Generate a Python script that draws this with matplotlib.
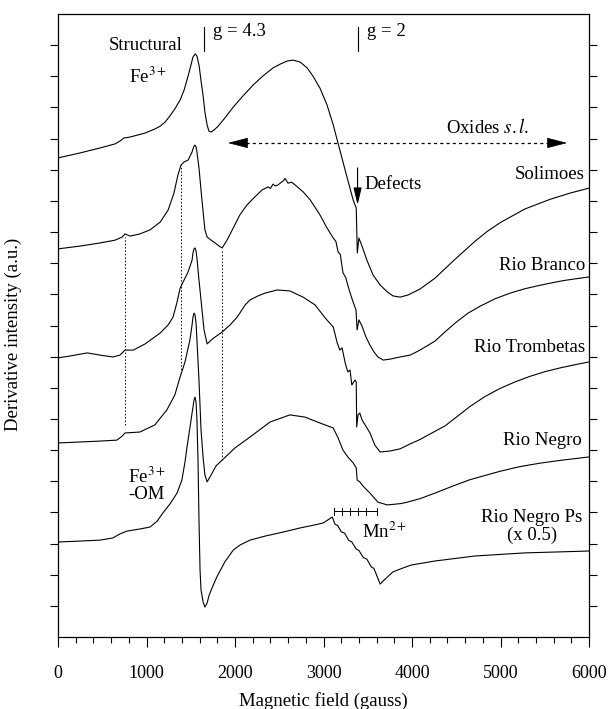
import matplotlib
matplotlib.use("Agg")
import matplotlib.pyplot as plt
import numpy as np

plt.rcParams['font.family'] = ['Liberation Serif', 'DejaVu Serif']
plt.rcParams['mathtext.fontset'] = 'stix'
plt.rcParams['font.size'] = 13.5

# magnetic field (gauss) and derivative intensity (a.u., offset stacked)
solimoes_x = [0, 250, 475, 645, 700, 745, 815, 985, 1095, 1155, 1210, 1265, 1320, 1380, 1425,
              1470, 1505, 1525, 1550, 1570, 1595, 1615, 1640, 1660, 1685, 1705, 1730, 1765,
              1810, 1885, 1980, 2090, 2205, 2315, 2430, 2510, 2590, 2655, 2735, 2815, 2880,
              2960, 3040, 3110, 3185, 3265, 3335, 3370, 3382, 3400, 3435, 3490, 3560, 3640,
              3720, 3785, 3865, 3955, 4090, 4260, 4465, 4710, 4850, 4995, 5275, 5560, 5785, 6000]
solimoes_y = [15.38, 15.54, 15.70, 15.83, 15.92, 16.02, 16.05, 16.18, 16.31, 16.40, 16.53,
              16.73, 16.95, 17.24, 17.56, 18.01, 18.39, 18.62, 18.72, 18.65, 18.33, 17.88,
              17.37, 16.85, 16.44, 16.24, 16.21, 16.28, 16.40, 16.66, 17.01, 17.37, 17.72,
              18.01, 18.27, 18.39, 18.49, 18.52, 18.46, 18.27, 18.01, 17.62, 17.08, 16.44,
              15.63, 14.77, 14.03, 13.77, 12.33, 12.81, 12.55, 12.10, 11.62, 11.30, 11.08,
              10.95, 10.91, 10.98, 11.17, 11.52, 12.07, 12.70, 13.02, 13.30, 13.74, 14.05,
              14.25, 14.41]

branco_x = [0, 250, 475, 645, 725, 757, 815, 925, 1040, 1155, 1245, 1310, 1355, 1390, 1425,
            1470, 1515, 1525, 1537, 1548, 1560, 1570, 1593, 1616, 1640, 1660, 1685, 1730, 1775,
            1820, 1855, 1910, 1980, 2055, 2135, 2225, 2305, 2375, 2400, 2430, 2455, 2485, 2515,
            2545, 2565, 2600, 2640, 2680, 2770, 2850, 2960, 3040, 3110, 3140, 3165, 3190, 3220,
            3250, 3290, 3335, 3367, 3380, 3400, 3435, 3480, 3525, 3570, 3615, 3675, 3750, 3865,
            3980, 4090, 4260, 4375, 4510, 4635, 4770, 4940, 5110, 5275, 5445, 5615, 5730, 6000]
branco_y = [12.46, 12.55, 12.65, 12.74, 12.84, 12.94, 12.87, 12.94, 13.07, 13.32, 13.71, 14.25,
            14.83, 15.15, 15.25, 15.31, 15.57, 15.67, 15.76, 15.79, 15.73, 15.57, 15.06, 14.35,
            13.64, 13.07, 12.84, 12.74, 12.65, 12.55, 12.49, 12.74, 13.13, 13.55, 13.87, 14.13,
            14.35, 14.45, 14.40, 14.54, 14.48, 14.51, 14.58, 14.64, 14.72, 14.57, 14.60, 14.51,
            14.29, 14.03, 13.55, 13.13, 12.81, 12.70, 12.36, 12.28, 11.69, 11.55, 11.14, 10.75,
            10.50, 9.86, 10.18, 9.98, 9.63, 9.37, 9.15, 8.99, 8.89, 8.92, 8.99, 9.05, 9.21,
            9.50, 9.80, 10.13, 10.40, 10.62, 10.86, 11.04, 11.18, 11.29, 11.39, 11.45, 11.56]

trombetas_x = [0, 135, 330, 475, 620, 700, 757, 850, 985, 1155, 1245, 1300, 1345, 1380, 1425,
               1470, 1515, 1525, 1537, 1548, 1560, 1570, 1593, 1616, 1650, 1685, 1730, 1775,
               1855, 1945, 2025, 2115, 2170, 2260, 2340, 2475, 2620, 2770, 2905, 3020, 3110,
               3155, 3185, 3210, 3245, 3275, 3300, 3320, 3355, 3370, 3375, 3390, 3410, 3435,
               3470, 3525, 3580, 3640, 3750, 3865, 3980, 4090, 4225, 4375, 4520, 4655, 4825,
               4995, 5165, 5335, 5505, 5675, 5840, 6000]
trombetas_y = [8.96, 9.02, 9.12, 9.05, 8.99, 9.05, 9.21, 9.21, 9.41, 9.76, 10.02, 10.27, 10.75,
               11.20, 11.46, 11.72, 12.10, 12.33, 12.46, 12.49, 12.39, 12.17, 11.46, 10.82, 9.86,
               9.41, 9.53, 9.63, 9.79, 10.02, 10.27, 10.66, 10.82, 10.95, 11.04, 11.14, 11.11,
               10.91, 10.66, 10.24, 9.95, 9.44, 9.21, 9.28, 8.80, 8.51, 8.57, 8.09, 8.25, 8.19,
               6.74, 7.13, 7.19, 6.97, 6.81, 6.55, 6.16, 5.94, 5.97, 6.04, 6.20, 6.34, 6.55, 6.78,
               7.10, 7.40, 7.72, 7.98, 8.19, 8.37, 8.52, 8.64, 8.74, 8.83]

negro_x = [0, 250, 475, 665, 725, 757, 925, 1095, 1230, 1320, 1380, 1435, 1490, 1515, 1525,
           1537, 1548, 1560, 1570, 1593, 1616, 1640, 1660, 1685, 1730, 1785, 1855, 2000, 2170,
           2395, 2620, 2790, 2960, 3110, 3165, 3220, 3275, 3335, 3370, 3380, 3410, 3445, 3525,
           3615, 3720, 3865, 3920, 4090, 4260, 4465, 4655, 4995, 5220, 5445, 5675, 6000]
negro_y = [6.23, 6.26, 6.29, 6.32, 6.45, 6.55, 6.58, 6.81, 7.29, 7.77, 8.35, 8.83, 9.53, 10.02,
           10.27, 10.40, 10.34, 10.08, 9.53, 8.25, 6.65, 5.75, 5.20, 4.98, 5.20, 5.49, 5.68,
           6.07, 6.42, 6.90, 7.13, 7.06, 6.87, 6.71, 6.39, 6.00, 5.78, 5.59, 5.43, 5.04, 4.98,
           4.85, 4.62, 4.33, 4.24, 4.28, 4.31, 4.44, 4.62, 4.85, 5.05, 5.32, 5.47, 5.58, 5.67,
           5.78]

negro_ps_x = [0, 250, 475, 620, 700, 780, 930, 1040, 1120, 1185, 1265, 1345, 1400, 1435, 1458,
              1490, 1515, 1537, 1548, 1560, 1570, 1582, 1593, 1605, 1616, 1640, 1660, 1685, 1705,
              1740, 1795, 1885, 1980, 2055, 2170, 2340, 2545, 2735, 2905, 2995, 3050, 3100, 3130,
              3160, 3200, 3240, 3285, 3320, 3370, 3400, 3450, 3490, 3540, 3570, 3640, 3670, 3785,
              3865, 3990, 4260, 4710, 5275, 6000]
negro_ps_y = [3.05, 3.08, 3.11, 3.18, 3.31, 3.40, 3.47, 3.53, 3.72, 3.98, 4.27, 4.62, 5.04, 5.62,
              6.10, 6.71, 7.19, 7.61, 7.70, 7.54, 6.97, 5.68, 3.76, 2.15, 1.51, 1.12, 0.96, 1.09,
              1.32, 1.57, 1.93, 2.41, 2.79, 2.95, 3.11, 3.24, 3.37, 3.50, 3.60, 3.66, 3.76, 3.85,
              3.62, 3.58, 3.38, 3.33, 3.10, 3.05, 2.82, 2.78, 2.55, 2.50, 2.25, 2.20, 1.70, 1.79,
              2.09, 2.18, 2.31, 2.44, 2.60, 2.70, 2.76]

# sample names, label anchor (x right edge, y)
labels = ["Solimoes", "Rio Branco", "Rio Trombetas", "Rio Negro"]
label_x = [5955, 5955, 5955, 5920]
label_y = [14.86, 11.94, 9.28, 6.32]

# dotted guide lines: field, top, bottom
guide_x = [757, 1390, 1853]
guide_top = [12.84, 15.15, 12.42]
guide_bottom = [6.81, 8.48, 5.68]

# Mn2+ hyperfine lines
mn_lines = [3120, 3210, 3300, 3390, 3480, 3605]

fig = plt.figure(figsize=(6.08, 7.09), dpi=100)
ax = fig.add_axes([58 / 608, 72 / 709, 531 / 608, 623 / 709])

for xs, ys in [(solimoes_x, solimoes_y), (branco_x, branco_y), (trombetas_x, trombetas_y),
               (negro_x, negro_y), (negro_ps_x, negro_ps_y)]:
    ax.plot(xs, ys, color='k', lw=0.8)

for gx, gt, gb in zip(guide_x, guide_top, guide_bottom):
    ax.plot([gx, gx], [gb, gt], color='k', lw=0.7, ls=(0, (1.5, 2)))

for name, lx, ly in zip(labels, label_x, label_y):
    ax.text(lx, ly, name, ha='right', va='center')
ax.text(5356, 3.85, "Rio Negro Ps", ha='center', va='center')
ax.text(5356, 3.27, "(x 0.5)", ha='center', va='center')

# g markers
ax.plot([1650, 1650], [18.81, 19.58], color='k', lw=0.8)
ax.text(1751, 19.45, "g = 4.3", ha='left', va='center')
ax.plot([3390, 3390], [18.81, 19.58], color='k', lw=0.8)
ax.text(3492, 19.45, "g = 2", ha='left', va='center')

ax.text(994, 19.0, "Structural", ha='center', va='center')
ax.text(1017, 17.97, "Fe$^{3+}$", ha='center', va='center')
ax.text(791, 5.14, "Fe$^{3+}$", ha='left', va='center')
ax.text(791, 4.56, "-OM", ha='left', va='center')

# oxides double arrow
ax.plot([2124, 5548], [15.86, 15.86], color='k', lw=0.9, ls=(0, (2.5, 2.5)))
for tip, base in [(1921, 2124), (5752, 5548)]:
    ax.annotate("", xy=(tip, 15.86), xytext=(base, 15.86),
                arrowprops=dict(arrowstyle='-|>,head_length=1.3,head_width=0.34',
                                mutation_scale=10, color='k', lw=0.5,
                                shrinkA=0, shrinkB=0))
ax.text(4848, 16.37, "Oxides $\\mathit{s.l.}$", ha='center', va='center')

# defects arrow
ax.annotate("", xy=(3385, 13.87), xytext=(3385, 15.06),
            arrowprops=dict(arrowstyle='-|>,head_length=1.05,head_width=0.25',
                            mutation_scale=10, color='k', lw=0.8,
                            shrinkA=0, shrinkB=0))
ax.text(3458, 14.54, "Defects", ha='left', va='center')

# Mn2+ bracket
ax.plot([mn_lines[0], mn_lines[-1]], [4.04, 4.04], color='k', lw=0.7)
for m in mn_lines:
    ax.plot([m, m], [3.93, 4.15], color='k', lw=0.7)
ax.text(3435, 3.37, "Mn$^{2+}$", ha='left', va='center')

ax.set_xlim(0, 6000)
ax.set_ylim(0, 20)
ax.set_xticks(np.arange(0, 6001, 1000))
ax.set_xticks(np.arange(0, 6001, 200), minor=True)
ax.set_yticks(np.arange(1, 20, 1))
ax.set_yticklabels([])
ax.tick_params(axis='x', which='major', direction='out', length=7, width=0.8, pad=13, labelsize=13)
ax.tick_params(axis='x', which='minor', direction='out', length=4.5, width=0.8)
ax.tick_params(axis='y', which='major', direction='out', length=5.5, width=0.8,
               left=True, right=True)
for s in ax.spines.values():
    s.set_linewidth(0.9)

ax.set_xlabel("Magnetic field (gauss)", fontsize=13.5)
ax.xaxis.set_label_coords(0.5, -0.088)
ax.set_ylabel("Derivative intensity (a.u.)", fontsize=13.5)
ax.yaxis.set_label_coords(-0.068, 0.485)

fig.savefig("out.png", dpi=100)
